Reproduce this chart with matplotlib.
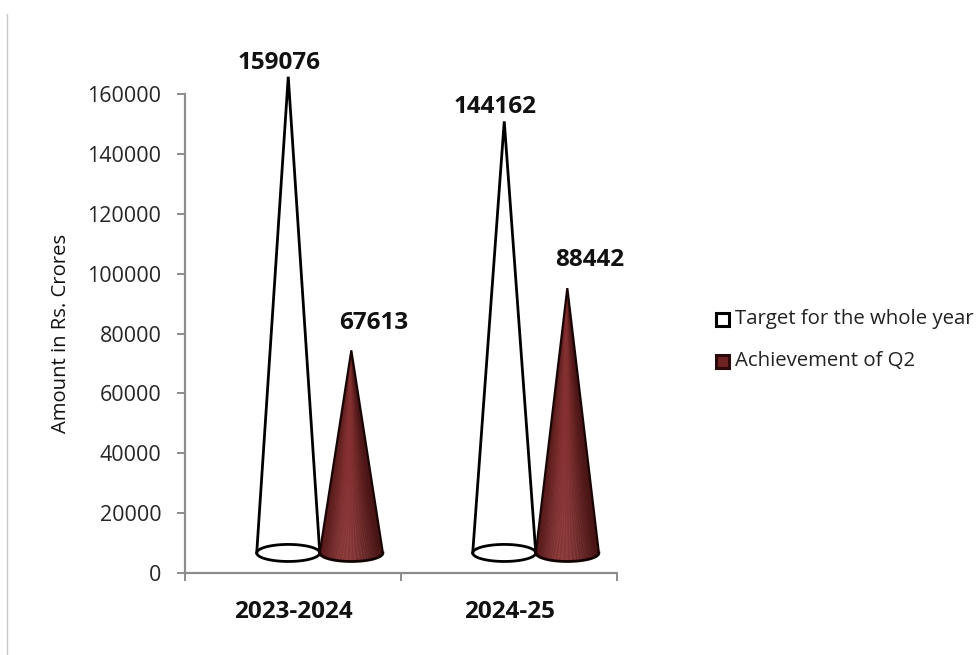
import numpy as np
import matplotlib
matplotlib.use("Agg")
import matplotlib.pyplot as plt
from matplotlib.patches import Polygon, Rectangle
from matplotlib.lines import Line2D
from matplotlib.colors import to_rgb

# ---- data ----
categories = ["2023-2024", "2024-25"]
series_names = ["Target for the whole year", "Achievement of Q2"]
target = [159076, 144162]
achievement = [67613, 88442]
y_ticks = [0, 20000, 40000, 60000, 80000, 100000, 120000, 140000, 160000]

plt.rcParams["font.family"] = ["Open Sans", "DejaVu Sans"]

W, H = 977, 655
fig = plt.figure(figsize=(W / 100, H / 100), dpi=100)
fig.patch.set_facecolor("white")

# plot area in pixel terms
ax_l, ax_r, ax_b, ax_t = 185, 617, 573, 94
ax = fig.add_axes([ax_l / W, (H - ax_b) / H, (ax_r - ax_l) / W, (ax_b - ax_t) / H])
ax.set_xlim(-0.5, 1.5)
ax.set_ylim(0, 160000)
ax.set_facecolor("none")

axis_grey = "#8c8c8c"
for side in ("top", "right"):
    ax.spines[side].set_visible(False)
for side in ("left", "bottom"):
    ax.spines[side].set_color(axis_grey)
    ax.spines[side].set_linewidth(1.6)

ax.set_yticks(y_ticks)
ax.set_yticklabels([str(v) for v in y_ticks], fontsize=15.5, color="#262626")
ax.tick_params(axis="y", length=6, width=1.4, color=axis_grey, pad=11)
ax.set_xticks([-0.5, 0.5, 1.5])
ax.set_xticklabels([])
ax.tick_params(axis="x", length=6, width=1.4, color=axis_grey, direction="out")

for i, c in enumerate(categories):
    ax.text(i, -13000, c, ha="center", va="center", fontsize=17.5,
            fontweight="bold", color="#111111")

ax.set_ylabel("Amount in Rs. Crores", fontsize=14.6, color="#111111", labelpad=12)

# ---- cone geometry (3D depth offset of the floor) ----
depth_dy = 6700          # base ellipse lifted above the axis
half_w = 0.146           # cone base half-width (x units)
half_h = 2850            # base ellipse half-height (y units)
offsets = [-0.022, 0.27]  # cone centres relative to category


def ellipse_pts(cx, cy, t):
    return cx + half_w * np.cos(t), cy + half_h * np.sin(t)


def white_cone(cx, value):
    cy = depth_dy
    apex = (cx, cy + value)
    t = np.linspace(0, 2 * np.pi, 200)
    ex, ey = ellipse_pts(cx, cy, t)
    tf = np.linspace(np.pi, 2 * np.pi, 100)
    fx, fy = ellipse_pts(cx, cy, tf)
    body = Polygon(np.column_stack([np.r_[apex[0], fx], np.r_[apex[1], fy]]),
                   closed=True, facecolor="white", edgecolor="none",
                   clip_on=False, zorder=2)
    ax.add_patch(body)
    ax.plot(ex, ey, color="black", lw=2.0, clip_on=False, zorder=3,
            solid_capstyle="round")
    lx, ly = ellipse_pts(cx, cy, np.pi)
    rx, ry = ellipse_pts(cx, cy, 0)
    ax.plot([lx, apex[0], rx], [ly, apex[1], ry], color="black", lw=2.0,
            clip_on=False, zorder=3, solid_joinstyle="miter")


def shaded_cone(cx, value):
    cy = depth_dy
    apex = np.array([cx, cy + value])
    base_dark = np.array(to_rgb("#421111"))
    base_light = np.array(to_rgb("#853030"))
    n = 120
    ts = np.linspace(np.pi, 2 * np.pi, n + 1)
    for k in range(n):
        t0, t1 = ts[k], ts[k + 1]
        tm = 0.5 * (t0 + t1)
        # lighting peaks a bit left of centre
        u = np.cos(tm)
        light = np.exp(-((u + 0.15) / 0.75) ** 2)
        col = base_dark + (base_light - base_dark) * light
        p0 = ellipse_pts(cx, cy, t0)
        p1 = ellipse_pts(cx, cy, t1)
        poly = Polygon([apex, p0, p1], closed=True, facecolor=col,
                       edgecolor=col, lw=0.3, clip_on=False, zorder=4)
        ax.add_patch(poly)
    tf = np.linspace(np.pi, 2 * np.pi, 100)
    fx, fy = ellipse_pts(cx, cy, tf)
    ax.plot(fx, fy, color="#120303", lw=2.0, clip_on=False, zorder=5)
    lx, ly = ellipse_pts(cx, cy, np.pi)
    rx, ry = ellipse_pts(cx, cy, 0)
    ax.plot([lx, apex[0], rx], [ly, apex[1], ry], color="#1a0505", lw=1.6,
            clip_on=False, zorder=5, solid_joinstyle="miter")


for i in range(len(categories)):
    white_cone(i + offsets[0], target[i])
    shaded_cone(i + offsets[1], achievement[i])
    ax.text(i - 0.065, target[i] + 11400, str(target[i]), ha="center",
            va="center", fontsize=17.5, fontweight="bold", color="#111111")
    ax.text(i + 0.375, achievement[i] + 16000, str(achievement[i]),
            ha="center", va="center", fontsize=17.5, fontweight="bold",
            color="#111111")

# ---- legend ----
def px(x, y):
    return x / W, 1 - y / H


legend_rows = [(319, "white", "black"), (361, "#6e2222", "#2a0a0a")]
for (yc, fc, ec), name in zip(legend_rows, series_names):
    x0, y0 = px(716, yc + 7)
    fig.patches.append(Rectangle((x0, y0), 13 / W, 13 / H, transform=fig.transFigure,
                                 facecolor=fc, edgecolor=ec, lw=2.2))
    tx, ty = px(735, yc)
    fig.text(tx, ty, name, ha="left", va="center", fontsize=14.7, color="#222222")

# thin frame edge on the left
fig.lines.append(Line2D([7 / W, 7 / W], [0, 1 - 14 / H], transform=fig.transFigure,
                        color="#c8c8c8", lw=1.0))

fig.savefig("out.png", dpi=100, facecolor="white")
